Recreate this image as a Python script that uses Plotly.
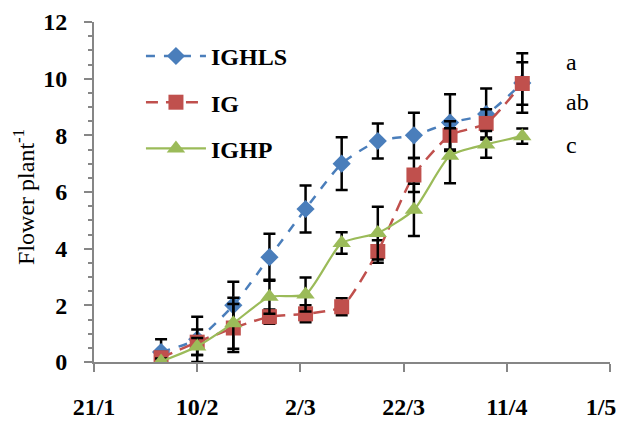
import plotly.graph_objects as go

dates = ["2015-02-03", "2015-02-10", "2015-02-17", "2015-02-24", "2015-03-03",
         "2015-03-10", "2015-03-17", "2015-03-24", "2015-03-31", "2015-04-07", "2015-04-14"]

ighls = [0.35, 0.8, 2.0, 3.7, 5.4, 7.0, 7.8, 8.0, 8.45, 8.75, 9.85]
ighls_err = [0.45, 0.8, 0.83, 0.83, 0.83, 0.93, 0.62, 0.8, 1.0, 0.9, 1.05]

ig = [0.15, 0.7, 1.2, 1.6, 1.7, 1.95, 3.9, 6.6, 8.0, 8.42, 9.83]
ig_err = [0.2, 0.45, 0.85, 0.25, 0.3, 0.3, 0.4, 0.6, 0.5, 0.5, 0.75]

ighp = [0.02, 0.55, 1.37, 2.3, 2.38, 4.2, 4.55, 5.37, 7.28, 7.68, 7.97]
ighp_err = [0.1, 0.3, 0.9, 0.6, 0.6, 0.38, 0.93, 0.92, 0.97, 0.47, 0.27]

tick_dates = ["2015-01-21", "2015-02-10", "2015-03-02", "2015-03-22", "2015-04-11", "2015-05-01"]
tick_labels = ["21/1", "10/2", "2/3", "22/3", "11/4", "1/5\u00a0\u00a0\u00a0"]

sig_labels = ["a", "ab", "c"]
sig_y = [10.6, 9.18, 7.66]
sig_x = "2015-04-22"

SERIF = "Liberation Serif, Times New Roman, serif"

fig = go.Figure()

def add(name, y, err, color, dash, symbol, size, lw):
    fig.add_trace(go.Scatter(
        x=dates, y=y, name=name, mode="lines+markers",
        line=dict(color=color, dash=dash, width=lw, shape="spline", smoothing=0.6),
        marker=dict(symbol=symbol, size=size, color=color),
        error_y=dict(type="data", array=err, visible=True, color="black",
                     thickness=2.5, width=6),
        legendgroup=name,
    ))

add("IGHLS", ighls, ighls_err, "#4A7EBB", "dash", "diamond", 14, 2.5)
add("IG", ig, ig_err, "#C0504D", "12px,8px", "square", 15, 2.5)
add("IGHP", ighp, ighp_err, "#9BBB59", "solid", "triangle-up", 16, 2.2)

for t, yv in zip(sig_labels, sig_y):
    fig.add_annotation(x=sig_x, y=yv, text=t, showarrow=False, xanchor="left",
                       yanchor="middle", font=dict(family=SERIF, size=24, color="black"))

fig.add_annotation(xref="paper", yref="paper", x=-0.136, y=0.485,
                   text="Flower plant<sup>-1</sup>", showarrow=False, textangle=-90,
                   xanchor="center", yanchor="middle",
                   font=dict(family=SERIF, size=24, color="black"))

fig.add_annotation(xref="paper", yref="paper", x=0.47, y=-0.155,
                   text="Date", showarrow=False, xanchor="center", yanchor="top",
                   font=dict(family=SERIF, size=22, color="black"))

# page body has an 8px margin: size the figure so the plot area lands where the reference has it
fig.update_layout(
    width=619, height=415,
    margin=dict(l=86, r=17, t=14, b=61),
    plot_bgcolor="white", paper_bgcolor="white",
    showlegend=True,
    legend=dict(x=0.091, y=0.965, xanchor="left", yanchor="top",
                font=dict(family=SERIF, size=24, color="black", weight="bold"),
                bgcolor="rgba(0,0,0,0)", tracegroupgap=12, itemwidth=60),
    xaxis=dict(
        type="date", range=["2015-01-21", "2015-05-01"], automargin=False,
        tickvals=tick_dates, ticktext=tick_labels, ticklabeloverflow="allow",
        showgrid=False, zeroline=False, showline=True,
        linecolor="#868686", linewidth=2,
        ticks="outside", ticklen=8, tickcolor="#868686", tickwidth=2,
        ticklabelstandoff=14,
        tickfont=dict(family=SERIF, size=24, color="black", weight="bold"),
    ),
    yaxis=dict(
        range=[0, 12], dtick=2, tick0=0, automargin=False,
        showgrid=False, zeroline=False, showline=True,
        linecolor="#868686", linewidth=2,
        ticks="outside", ticklen=8, tickcolor="#868686", tickwidth=2,
        ticklabelstandoff=12,
        minor=dict(dtick=0.5, ticks="outside", ticklen=4, tickcolor="#868686", tickwidth=1.5),
        tickfont=dict(family=SERIF, size=24, color="black", weight="bold"),
    ),
)

fig.write_html("out.html")
